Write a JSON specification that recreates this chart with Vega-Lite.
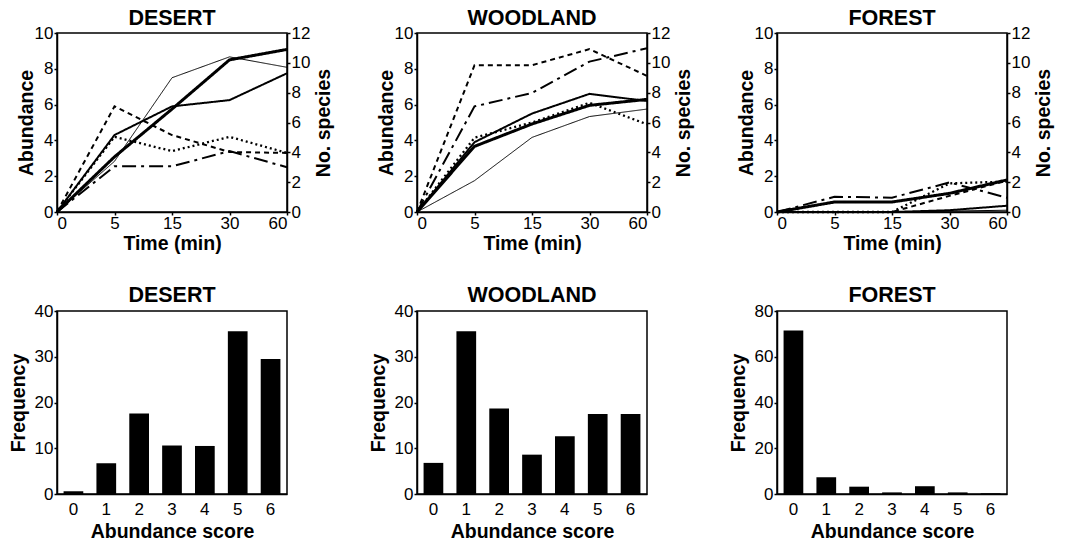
{
  "$schema": "https://vega.github.io/schema/vega-lite/v6.json",
  "background": "white",
  "padding": {"left": 7, "top": 6, "right": 5, "bottom": 2},
  "config": {
    "font": "Liberation Sans",
    "view": {"stroke": "black", "strokeWidth": 1.5},
    "axis": {
      "grid": false,
      "domainColor": "black",
      "domainWidth": 1.5,
      "tickColor": "black",
      "tickWidth": 1.5,
      "tickSize": 3,
      "labelColor": "black",
      "labelFont": "Liberation Sans",
      "labelFontSize": 17,
      "labelPadding": 1,
      "titleColor": "black",
      "titleFont": "Liberation Sans",
      "titleFontSize": 19.5,
      "titleFontWeight": "bold",
      "titlePadding": 2
    },
    "title": {"fontSize": 21.5, "fontWeight": "bold", "color": "black", "font": "Liberation Sans", "anchor": "middle", "offset": -5, "frame": "group"}
  },
  "datasets": {
    "lines": [
      {"habitat": "Desert", "series": "A", "measure": "species", "t": 0, "value": 0},
      {"habitat": "Desert", "series": "A", "measure": "species", "t": 5, "value": 3.7},
      {"habitat": "Desert", "series": "A", "measure": "species", "t": 15, "value": 6.9},
      {"habitat": "Desert", "series": "A", "measure": "species", "t": 30, "value": 10.2},
      {"habitat": "Desert", "series": "A", "measure": "species", "t": 60, "value": 10.9},
      {"habitat": "Desert", "series": "B", "measure": "species", "t": 0, "value": 0},
      {"habitat": "Desert", "series": "B", "measure": "species", "t": 5, "value": 3.4},
      {"habitat": "Desert", "series": "B", "measure": "species", "t": 15, "value": 9.0},
      {"habitat": "Desert", "series": "B", "measure": "species", "t": 30, "value": 10.4},
      {"habitat": "Desert", "series": "B", "measure": "species", "t": 60, "value": 9.7},
      {"habitat": "Desert", "series": "C", "measure": "abundance", "t": 0, "value": 0},
      {"habitat": "Desert", "series": "C", "measure": "abundance", "t": 5, "value": 4.3},
      {"habitat": "Desert", "series": "C", "measure": "abundance", "t": 15, "value": 5.9},
      {"habitat": "Desert", "series": "C", "measure": "abundance", "t": 30, "value": 6.25},
      {"habitat": "Desert", "series": "C", "measure": "abundance", "t": 60, "value": 7.75},
      {"habitat": "Desert", "series": "D", "measure": "abundance", "t": 0, "value": 0},
      {"habitat": "Desert", "series": "D", "measure": "abundance", "t": 5, "value": 5.9},
      {"habitat": "Desert", "series": "D", "measure": "abundance", "t": 15, "value": 4.3},
      {"habitat": "Desert", "series": "D", "measure": "abundance", "t": 30, "value": 3.35},
      {"habitat": "Desert", "series": "D", "measure": "abundance", "t": 60, "value": 3.3},
      {"habitat": "Desert", "series": "E", "measure": "abundance", "t": 0, "value": 0},
      {"habitat": "Desert", "series": "E", "measure": "abundance", "t": 5, "value": 4.2},
      {"habitat": "Desert", "series": "E", "measure": "abundance", "t": 15, "value": 3.4},
      {"habitat": "Desert", "series": "E", "measure": "abundance", "t": 30, "value": 4.2},
      {"habitat": "Desert", "series": "E", "measure": "abundance", "t": 60, "value": 3.3},
      {"habitat": "Desert", "series": "F", "measure": "abundance", "t": 0, "value": 0},
      {"habitat": "Desert", "series": "F", "measure": "abundance", "t": 5, "value": 2.55},
      {"habitat": "Desert", "series": "F", "measure": "abundance", "t": 15, "value": 2.55},
      {"habitat": "Desert", "series": "F", "measure": "abundance", "t": 30, "value": 3.4},
      {"habitat": "Desert", "series": "F", "measure": "abundance", "t": 60, "value": 2.5},
      {"habitat": "Woodland", "series": "A", "measure": "species", "t": 0, "value": 0},
      {"habitat": "Woodland", "series": "A", "measure": "species", "t": 5, "value": 4.4},
      {"habitat": "Woodland", "series": "A", "measure": "species", "t": 15, "value": 5.9},
      {"habitat": "Woodland", "series": "A", "measure": "species", "t": 30, "value": 7.15},
      {"habitat": "Woodland", "series": "A", "measure": "species", "t": 60, "value": 7.55},
      {"habitat": "Woodland", "series": "B", "measure": "species", "t": 0, "value": 0},
      {"habitat": "Woodland", "series": "B", "measure": "species", "t": 5, "value": 2.1},
      {"habitat": "Woodland", "series": "B", "measure": "species", "t": 15, "value": 5.0},
      {"habitat": "Woodland", "series": "B", "measure": "species", "t": 30, "value": 6.4},
      {"habitat": "Woodland", "series": "B", "measure": "species", "t": 60, "value": 6.9},
      {"habitat": "Woodland", "series": "C", "measure": "abundance", "t": 0, "value": 0},
      {"habitat": "Woodland", "series": "C", "measure": "abundance", "t": 5, "value": 3.9},
      {"habitat": "Woodland", "series": "C", "measure": "abundance", "t": 15, "value": 5.5},
      {"habitat": "Woodland", "series": "C", "measure": "abundance", "t": 30, "value": 6.6},
      {"habitat": "Woodland", "series": "C", "measure": "abundance", "t": 60, "value": 6.2},
      {"habitat": "Woodland", "series": "D", "measure": "abundance", "t": 0, "value": 0},
      {"habitat": "Woodland", "series": "D", "measure": "abundance", "t": 5, "value": 8.2},
      {"habitat": "Woodland", "series": "D", "measure": "abundance", "t": 15, "value": 8.2},
      {"habitat": "Woodland", "series": "D", "measure": "abundance", "t": 30, "value": 9.1},
      {"habitat": "Woodland", "series": "D", "measure": "abundance", "t": 60, "value": 7.6},
      {"habitat": "Woodland", "series": "E", "measure": "abundance", "t": 0, "value": 0},
      {"habitat": "Woodland", "series": "E", "measure": "abundance", "t": 5, "value": 4.15},
      {"habitat": "Woodland", "series": "E", "measure": "abundance", "t": 15, "value": 5.0},
      {"habitat": "Woodland", "series": "E", "measure": "abundance", "t": 30, "value": 6.1},
      {"habitat": "Woodland", "series": "E", "measure": "abundance", "t": 60, "value": 4.9},
      {"habitat": "Woodland", "series": "F", "measure": "abundance", "t": 0, "value": 0},
      {"habitat": "Woodland", "series": "F", "measure": "abundance", "t": 5, "value": 5.9},
      {"habitat": "Woodland", "series": "F", "measure": "abundance", "t": 15, "value": 6.65},
      {"habitat": "Woodland", "series": "F", "measure": "abundance", "t": 30, "value": 8.4},
      {"habitat": "Woodland", "series": "F", "measure": "abundance", "t": 60, "value": 9.15},
      {"habitat": "Forest", "series": "A", "measure": "species", "t": 0, "value": 0},
      {"habitat": "Forest", "series": "A", "measure": "species", "t": 5, "value": 0.67},
      {"habitat": "Forest", "series": "A", "measure": "species", "t": 15, "value": 0.67},
      {"habitat": "Forest", "series": "A", "measure": "species", "t": 30, "value": 1.25},
      {"habitat": "Forest", "series": "A", "measure": "species", "t": 60, "value": 2.15},
      {"habitat": "Forest", "series": "B", "measure": "species", "t": 0, "value": 0},
      {"habitat": "Forest", "series": "B", "measure": "species", "t": 5, "value": 0},
      {"habitat": "Forest", "series": "B", "measure": "species", "t": 15, "value": 0},
      {"habitat": "Forest", "series": "B", "measure": "species", "t": 30, "value": 0.06},
      {"habitat": "Forest", "series": "B", "measure": "species", "t": 60, "value": 0.12},
      {"habitat": "Forest", "series": "C", "measure": "abundance", "t": 0, "value": 0},
      {"habitat": "Forest", "series": "C", "measure": "abundance", "t": 5, "value": 0},
      {"habitat": "Forest", "series": "C", "measure": "abundance", "t": 15, "value": 0},
      {"habitat": "Forest", "series": "C", "measure": "abundance", "t": 30, "value": 0.1},
      {"habitat": "Forest", "series": "C", "measure": "abundance", "t": 60, "value": 0.35},
      {"habitat": "Forest", "series": "D", "measure": "abundance", "t": 0, "value": 0},
      {"habitat": "Forest", "series": "D", "measure": "abundance", "t": 5, "value": 0},
      {"habitat": "Forest", "series": "D", "measure": "abundance", "t": 15, "value": 0},
      {"habitat": "Forest", "series": "D", "measure": "abundance", "t": 30, "value": 0.9},
      {"habitat": "Forest", "series": "D", "measure": "abundance", "t": 60, "value": 1.75},
      {"habitat": "Forest", "series": "E", "measure": "abundance", "t": 0, "value": 0},
      {"habitat": "Forest", "series": "E", "measure": "abundance", "t": 5, "value": 0},
      {"habitat": "Forest", "series": "E", "measure": "abundance", "t": 15, "value": 0},
      {"habitat": "Forest", "series": "E", "measure": "abundance", "t": 30, "value": 1.6},
      {"habitat": "Forest", "series": "E", "measure": "abundance", "t": 60, "value": 1.7},
      {"habitat": "Forest", "series": "F", "measure": "abundance", "t": 0, "value": 0},
      {"habitat": "Forest", "series": "F", "measure": "abundance", "t": 5, "value": 0.85},
      {"habitat": "Forest", "series": "F", "measure": "abundance", "t": 15, "value": 0.8},
      {"habitat": "Forest", "series": "F", "measure": "abundance", "t": 30, "value": 1.65},
      {"habitat": "Forest", "series": "F", "measure": "abundance", "t": 60, "value": 0.8}
    ],
    "bars": [
      {"habitat": "Desert", "score": 0, "freq": 0.6},
      {"habitat": "Desert", "score": 1, "freq": 6.7},
      {"habitat": "Desert", "score": 2, "freq": 17.6},
      {"habitat": "Desert", "score": 3, "freq": 10.6},
      {"habitat": "Desert", "score": 4, "freq": 10.5},
      {"habitat": "Desert", "score": 5, "freq": 35.6},
      {"habitat": "Desert", "score": 6, "freq": 29.5},
      {"habitat": "Woodland", "score": 0, "freq": 6.8},
      {"habitat": "Woodland", "score": 1, "freq": 35.6},
      {"habitat": "Woodland", "score": 2, "freq": 18.7},
      {"habitat": "Woodland", "score": 3, "freq": 8.6},
      {"habitat": "Woodland", "score": 4, "freq": 12.6},
      {"habitat": "Woodland", "score": 5, "freq": 17.5},
      {"habitat": "Woodland", "score": 6, "freq": 17.5},
      {"habitat": "Forest", "score": 0, "freq": 71.5},
      {"habitat": "Forest", "score": 1, "freq": 7.3},
      {"habitat": "Forest", "score": 2, "freq": 3.2},
      {"habitat": "Forest", "score": 3, "freq": 0.7},
      {"habitat": "Forest", "score": 4, "freq": 3.4},
      {"habitat": "Forest", "score": 5, "freq": 0.7},
      {"habitat": "Forest", "score": 6, "freq": 0.3}
    ]
  },
  "spacing": 29,
  "vconcat": [
    {
      "spacing": 130,
      "bounds": "flush",
      "hconcat": [
        {
          "title": "DESERT",
          "width": 230,
          "height": 179,
          "data": {"name": "lines"},
          "transform": [{"filter": "datum.habitat === 'Desert'"}],
          "encoding": {
            "x": {"field": "t", "type": "ordinal", "sort": [0, 5, 15, 30, 60], "scale": {"type": "point", "padding": 0}, "axis": {"title": "Time (min)", "labelAngle": 0, "labelPadding": 0, "labelFlush": true, "titlePadding": 3}},
            "strokeDash": {"field": "series", "type": "nominal", "scale": {"domain": ["A", "B", "C", "D", "E", "F"], "range": [[1, 0], [1, 0], [1, 0], [5, 4], [2, 3], [14, 5, 3, 5]]}, "legend": null},
            "strokeWidth": {"field": "series", "type": "nominal", "scale": {"type": "ordinal", "domain": ["A", "B", "C", "D", "E", "F"], "range": [3, 1, 2, 2, 2.3, 2]}, "legend": null}
          },
          "layer": [
            {
              "transform": [{"filter": "datum.measure === 'abundance'"}],
              "mark": {"type": "line", "color": "black"},
              "encoding": {"y": {"field": "value", "type": "quantitative", "scale": {"domain": [0, 10]}, "axis": {"title": "Abundance", "values": [0, 2, 4, 6, 8, 10], "titlePadding": -2}}}
            },
            {
              "transform": [{"filter": "datum.measure === 'species'"}],
              "mark": {"type": "line", "color": "black"},
              "encoding": {"y": {"field": "value", "type": "quantitative", "scale": {"domain": [0, 12]}, "axis": {"orient": "right", "title": "No. species", "values": [0, 2, 4, 6, 8, 10, 12], "titleAngle": 270, "titleBaseline": "top", "titlePadding": 5}}}
            }
          ],
          "resolve": {"scale": {"y": "independent"}}
        },
        {
          "title": "WOODLAND",
          "width": 230,
          "height": 179,
          "data": {"name": "lines"},
          "transform": [{"filter": "datum.habitat === 'Woodland'"}],
          "encoding": {
            "x": {"field": "t", "type": "ordinal", "sort": [0, 5, 15, 30, 60], "scale": {"type": "point", "padding": 0}, "axis": {"title": "Time (min)", "labelAngle": 0, "labelPadding": 0, "labelFlush": true, "titlePadding": 3}},
            "strokeDash": {"field": "series", "type": "nominal", "scale": {"domain": ["A", "B", "C", "D", "E", "F"], "range": [[1, 0], [1, 0], [1, 0], [5, 4], [2, 3], [14, 5, 3, 5]]}, "legend": null},
            "strokeWidth": {"field": "series", "type": "nominal", "scale": {"type": "ordinal", "domain": ["A", "B", "C", "D", "E", "F"], "range": [3, 1, 2, 2, 2.3, 2]}, "legend": null}
          },
          "layer": [
            {
              "transform": [{"filter": "datum.measure === 'abundance'"}],
              "mark": {"type": "line", "color": "black"},
              "encoding": {"y": {"field": "value", "type": "quantitative", "scale": {"domain": [0, 10]}, "axis": {"title": "Abundance", "values": [0, 2, 4, 6, 8, 10], "titlePadding": -2}}}
            },
            {
              "transform": [{"filter": "datum.measure === 'species'"}],
              "mark": {"type": "line", "color": "black"},
              "encoding": {"y": {"field": "value", "type": "quantitative", "scale": {"domain": [0, 12]}, "axis": {"orient": "right", "title": "No. species", "values": [0, 2, 4, 6, 8, 10, 12], "titleAngle": 270, "titleBaseline": "top", "titlePadding": 5}}}
            }
          ],
          "resolve": {"scale": {"y": "independent"}}
        },
        {
          "title": "FOREST",
          "width": 230,
          "height": 179,
          "data": {"name": "lines"},
          "transform": [{"filter": "datum.habitat === 'Forest'"}],
          "encoding": {
            "x": {"field": "t", "type": "ordinal", "sort": [0, 5, 15, 30, 60], "scale": {"type": "point", "padding": 0}, "axis": {"title": "Time (min)", "labelAngle": 0, "labelPadding": 0, "labelFlush": true, "titlePadding": 3}},
            "strokeDash": {"field": "series", "type": "nominal", "scale": {"domain": ["A", "B", "C", "D", "E", "F"], "range": [[1, 0], [1, 0], [1, 0], [5, 4], [2, 3], [14, 5, 3, 5]]}, "legend": null},
            "strokeWidth": {"field": "series", "type": "nominal", "scale": {"type": "ordinal", "domain": ["A", "B", "C", "D", "E", "F"], "range": [3, 1, 2, 2, 2.3, 2]}, "legend": null}
          },
          "layer": [
            {
              "transform": [{"filter": "datum.measure === 'abundance'"}],
              "mark": {"type": "line", "color": "black"},
              "encoding": {"y": {"field": "value", "type": "quantitative", "scale": {"domain": [0, 10]}, "axis": {"title": "Abundance", "values": [0, 2, 4, 6, 8, 10], "titlePadding": -2}}}
            },
            {
              "transform": [{"filter": "datum.measure === 'species'"}],
              "mark": {"type": "line", "color": "black"},
              "encoding": {"y": {"field": "value", "type": "quantitative", "scale": {"domain": [0, 12]}, "axis": {"orient": "right", "title": "No. species", "values": [0, 2, 4, 6, 8, 10, 12], "titleAngle": 270, "titleBaseline": "top", "titlePadding": 5}}}
            }
          ],
          "resolve": {"scale": {"y": "independent"}}
        }
      ]
    },
    {
      "spacing": 130,
      "bounds": "flush",
      "hconcat": [
        {
          "title": {"text": "DESERT", "offset": -4},
          "width": 230,
          "height": 183,
          "data": {"name": "bars"},
          "transform": [{"filter": "datum.habitat === 'Desert'"}],
          "mark": {"type": "bar", "color": "black"},
          "encoding": {
            "x": {"field": "score", "type": "ordinal", "scale": {"paddingInner": 0.4, "paddingOuter": 0.2}, "axis": {"title": "Abundance score", "labelAngle": 0, "ticks": false, "labelPadding": 7, "titlePadding": 5}},
            "y": {"field": "freq", "type": "quantitative", "scale": {"domain": [0, 40]}, "axis": {"title": "Frequency", "values": [0, 10, 20, 30, 40], "titlePadding": 6}}
          }
        },
        {
          "title": {"text": "WOODLAND", "offset": -4},
          "width": 230,
          "height": 183,
          "data": {"name": "bars"},
          "transform": [{"filter": "datum.habitat === 'Woodland'"}],
          "mark": {"type": "bar", "color": "black"},
          "encoding": {
            "x": {"field": "score", "type": "ordinal", "scale": {"paddingInner": 0.4, "paddingOuter": 0.2}, "axis": {"title": "Abundance score", "labelAngle": 0, "ticks": false, "labelPadding": 7, "titlePadding": 5}},
            "y": {"field": "freq", "type": "quantitative", "scale": {"domain": [0, 40]}, "axis": {"title": "Frequency", "values": [0, 10, 20, 30, 40], "titlePadding": 6}}
          }
        },
        {
          "title": {"text": "FOREST", "offset": -4},
          "width": 230,
          "height": 183,
          "data": {"name": "bars"},
          "transform": [{"filter": "datum.habitat === 'Forest'"}],
          "mark": {"type": "bar", "color": "black"},
          "encoding": {
            "x": {"field": "score", "type": "ordinal", "scale": {"paddingInner": 0.4, "paddingOuter": 0.2}, "axis": {"title": "Abundance score", "labelAngle": 0, "ticks": false, "labelPadding": 7, "titlePadding": 5}},
            "y": {"field": "freq", "type": "quantitative", "scale": {"domain": [0, 80]}, "axis": {"title": "Frequency", "values": [0, 20, 40, 60, 80], "titlePadding": 6}}
          }
        }
      ]
    }
  ]
}
